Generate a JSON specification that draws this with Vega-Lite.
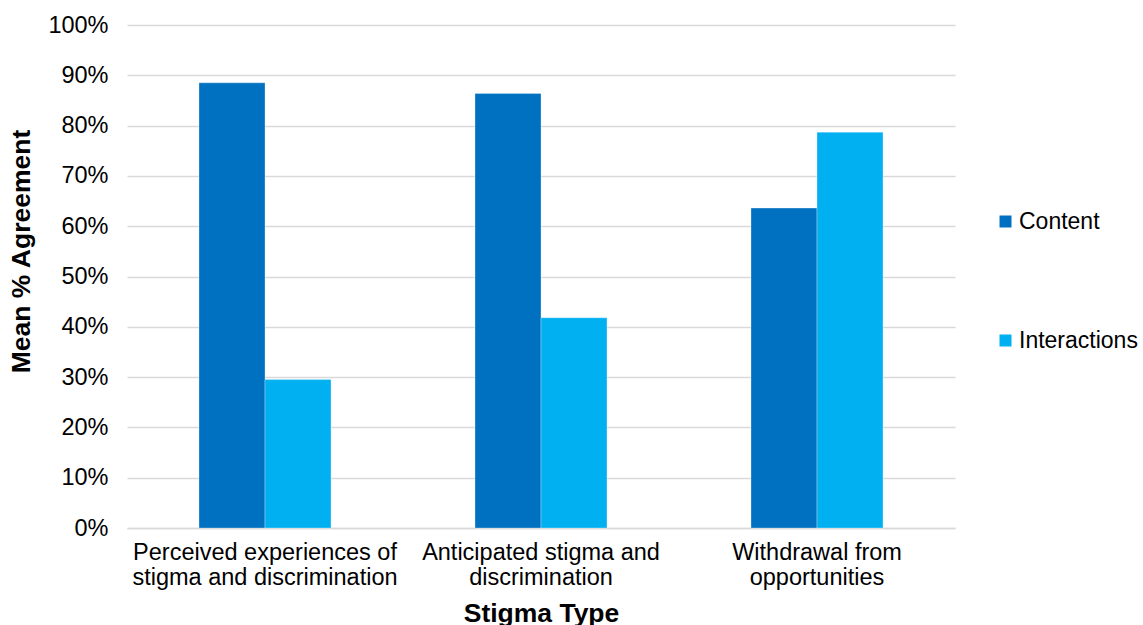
{
  "$schema": "https://vega.github.io/schema/vega-lite/v6.json",
  "autosize": "none",
  "width": 828,
  "height": 503,
  "padding": {"left": 127, "top": 25, "right": 188, "bottom": 97},
  "background": "white",
  "config": {
    "font": "Liberation Sans",
    "view": {"stroke": null}
  },
  "data": {
    "values": [
      {"type": "Perceived experiences of|stigma and discrimination", "series": "Content", "value": 0.885},
      {"type": "Perceived experiences of|stigma and discrimination", "series": "Interactions", "value": 0.295},
      {"type": "Anticipated stigma and|discrimination", "series": "Content", "value": 0.864},
      {"type": "Anticipated stigma and|discrimination", "series": "Interactions", "value": 0.418},
      {"type": "Withdrawal from|opportunities", "series": "Content", "value": 0.636},
      {"type": "Withdrawal from|opportunities", "series": "Interactions", "value": 0.787}
    ]
  },
  "mark": {"type": "bar", "stroke": "#ffffff", "strokeWidth": 0.6, "strokeOpacity": 0.5},
  "encoding": {
    "x": {
      "field": "type",
      "type": "nominal",
      "sort": null,
      "scale": {"paddingInner": 0.0435, "paddingOuter": 0.02175},
      "axis": {
        "title": "Stigma Type",
        "titleFontSize": 26.5,
        "titleFontWeight": "bold",
        "titleColor": "#000000",
        "titlePadding": 12,
        "labelExpr": "split(datum.label, '|')",
        "labelAngle": 0,
        "labelFontSize": 23.5,
        "labelLimit": 0,
        "labelColor": "#000000",
        "labelLineHeight": 25,
        "labelPadding": 12,
        "ticks": false,
        "domainColor": "#d9d9d9",
        "domainWidth": 1.5
      }
    },
    "xOffset": {
      "field": "series",
      "type": "nominal",
      "scale": {"paddingInner": 0, "paddingOuter": 1}
    },
    "y": {
      "field": "value",
      "type": "quantitative",
      "scale": {"domain": [0, 1]},
      "axis": {
        "title": "Mean % Agreement",
        "titleFontSize": 26.5,
        "titleFontWeight": "bold",
        "titleColor": "#000000",
        "titlePadding": 12,
        "titleY": 226,
        "format": ".0%",
        "values": [0, 0.1, 0.2, 0.3, 0.4, 0.5, 0.6, 0.7, 0.8, 0.9, 1],
        "labelOverlap": false,
        "labelFontSize": 23.5,
        "labelColor": "#000000",
        "labelPadding": 19,
        "ticks": false,
        "domain": false,
        "gridColor": "#d9d9d9",
        "gridWidth": 1.5
      }
    },
    "color": {
      "field": "series",
      "type": "nominal",
      "scale": {"domain": ["Content", "Interactions"], "range": ["#0070C0", "#00B0F0"]},
      "legend": {
        "title": null,
        "orient": "none",
        "legendX": 867,
        "legendY": 185,
        "symbolType": "square",
        "symbolSize": 144,
        "symbolStrokeWidth": 0,
        "labelFontSize": 23,
        "labelColor": "#000000",
        "labelOffset": 2,
        "labelLimit": 0,
        "rowPadding": 95
      }
    }
  }
}
